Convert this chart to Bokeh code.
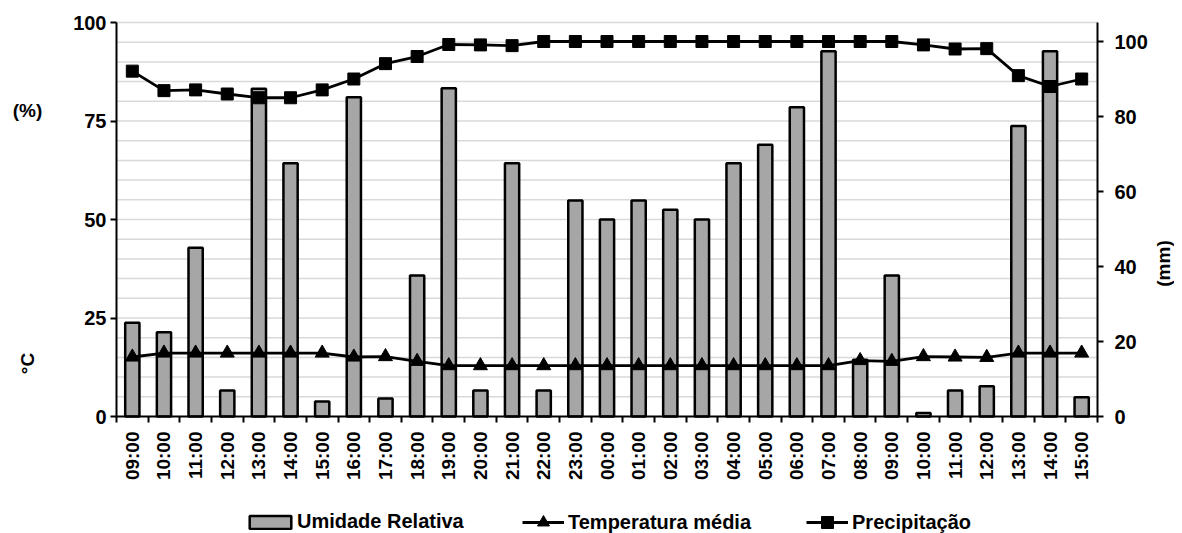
from bokeh.plotting import figure
from bokeh.models import (Range1d, LinearAxis, FixedTicker, Legend, LegendItem, Label)
from bokeh.embed import file_html
from bokeh.resources import INLINE
import math

hours = ["09:00", "10:00", "11:00", "12:00", "13:00", "14:00", "15:00", "16:00",
         "17:00", "18:00", "19:00", "20:00", "21:00", "22:00", "23:00", "00:00",
         "01:00", "02:00", "03:00", "04:00", "05:00", "06:00", "07:00", "08:00",
         "09:00", "10:00", "11:00", "12:00", "13:00", "14:00", "15:00"]

umidade = [23.8, 21.4, 42.8, 6.6, 83.2, 64.3, 3.8, 81.0, 4.6, 35.8, 83.3, 6.6,
           64.3, 6.6, 54.8, 50.0, 54.8, 52.5, 50.0, 64.3, 69.0, 78.5, 92.7, 14.4,
           35.8, 0.9, 6.6, 7.7, 73.7, 92.7, 4.9]

temperatura = [15.1, 16.1, 16.1, 16.1, 16.1, 16.1, 16.1, 15.1, 15.2, 14.0, 12.9, 12.9,
               12.9, 12.9, 12.9, 12.9, 12.9, 12.9, 12.9, 12.9, 12.9, 12.9, 12.9, 14.2,
               14.0, 15.2, 15.1, 15.0, 16.1, 16.1, 16.1]

precipitacao = [92.1, 86.9, 87.1, 86.0, 85.0, 85.0, 87.1, 90.0, 94.1, 96.0, 99.2, 99.1,
                98.9, 100.0, 100.0, 100.0, 100.0, 100.0, 100.0, 100.0, 100.0, 100.0, 100.0, 100.0,
                100.0, 99.1, 98.0, 98.1, 90.9, 88.0, 90.0]

left_ticks = [0, 25, 50, 75, 100]
right_ticks = [0, 20, 40, 60, 80, 100]
grid_values = list(range(5, 101, 5))
LEFT_MAX = 100
RIGHT_MAX = 105.07

FONT = "Liberation Sans"
n = len(hours)
xs = [i + 0.5 for i in range(n)]

# canvas / plot-area geometry (pixels)
W, H = 1174, 533
PL, PR, PT, PB = 116, 1097, 22, 416
ppx = (PR - PL) / n
ppy = (PB - PT) / LEFT_MAX
ppr = (PB - PT) / RIGHT_MAX

p = figure(width=W, height=H, output_backend="svg", toolbar_location=None,
           x_range=Range1d(-PL / ppx, n + (W - PR) / ppx),
           y_range=Range1d(-(H - PB) / ppy, LEFT_MAX + PT / ppy))
p.min_border_left = 0
p.min_border_right = 0
p.min_border_top = 0
p.min_border_bottom = 0
p.title.visible = False
p.outline_line_color = None
p.background_fill_color = "white"
p.border_fill_color = "white"
p.xgrid.visible = False
p.ygrid.visible = False

p.extra_y_ranges = {"mm": Range1d(-(H - PB) / ppr, RIGHT_MAX + PT / ppr)}

def style_axis(ax, size, standoff):
    ax.axis_line_width = 2
    ax.axis_line_color = "black"
    ax.major_tick_line_width = 2
    ax.major_tick_line_color = "black"
    ax.minor_tick_line_width = 2
    ax.minor_tick_line_color = "black"
    ax.major_label_standoff = standoff
    ax.major_label_text_font = FONT
    ax.major_label_text_font_style = "bold"
    ax.major_label_text_font_size = size
    ax.major_label_text_color = "black"

# x axis
xa = p.xaxis[0]
xa.ticker = FixedTicker(ticks=xs, minor_ticks=list(range(0, n + 1)))
xa.major_label_overrides = {x: h for x, h in zip(xs, hours)}
xa.major_label_orientation = math.pi / 2
xa.major_tick_out = 0
xa.major_tick_in = 0
xa.minor_tick_out = 6
xa.minor_tick_in = 0
xa.fixed_location = 0
xa.bounds = (0, n)
style_axis(xa, "19px", 9)

# left axis
ya = p.yaxis[0]
ya.ticker = FixedTicker(ticks=left_ticks)
ya.minor_tick_out = 0
ya.minor_tick_in = 0
ya.major_tick_out = 6
ya.major_tick_in = 0
ya.fixed_location = 0
ya.bounds = (0, LEFT_MAX)
style_axis(ya, "20px", 4)

# right axis
ra = LinearAxis(y_range_name="mm", ticker=FixedTicker(ticks=right_ticks))
ra.minor_tick_out = 0
ra.minor_tick_in = 0
ra.major_tick_out = 6
ra.major_tick_in = 0
ra.fixed_location = n
ra.bounds = (0, RIGHT_MAX)
style_axis(ra, "20px", 11)
p.add_layout(ra, "right")

# horizontal grid lines across the plot area
p.segment(x0=[0] * len(grid_values), x1=[n] * len(grid_values),
          y0=grid_values, y1=grid_values, line_color="#d9d9d9", line_width=1.5)

# glyphs
bars = p.vbar(x=xs, top=umidade, width=0.45, bottom=0,
              fill_color="#a6a6a6", line_color="black", line_width=2.5)
tl = p.line(xs, temperatura, line_color="black", line_width=2.8)
ts = p.scatter(xs, temperatura, marker="triangle", size=14,
               fill_color="black", line_color="black")
pl = p.line(xs, precipitacao, line_color="black", line_width=2.8, y_range_name="mm")
ps = p.scatter(xs, precipitacao, marker="square", size=12,
               fill_color="black", line_color="black", y_range_name="mm")

def style_legend(lg, gw, gh, standoff):
    lg.border_line_color = None
    lg.background_fill_alpha = 0
    lg.padding = 0
    lg.margin = 0
    lg.spacing = 55
    lg.label_standoff = standoff
    lg.glyph_width = gw
    lg.glyph_height = gh
    lg.label_height = 20
    lg.label_text_font = FONT
    lg.label_text_font_style = "bold"
    lg.label_text_font_size = "20px"
    lg.label_text_color = "black"

legend_a = Legend(items=[LegendItem(label="Umidade Relativa", renderers=[bars])],
                  orientation="horizontal", location=(244, 0))
style_legend(legend_a, 52, 16, 1)
p.add_layout(legend_a, "center")

legend_b = Legend(items=[
    LegendItem(label="Temperatura média", renderers=[tl, ts]),
    LegendItem(label="Precipitação", renderers=[pl, ps]),
], orientation="horizontal", location=(522, -4))
style_legend(legend_b, 42, 30, 4)
p.add_layout(legend_b, "center")

# axis titles
for txt, x, y, ang in [("(%)", (27 - PL) / ppx, (PB - 110) / ppy, 0),
                       ("°C", (27 - PL) / ppx, (PB - 363) / ppy, math.pi / 2),
                       ("(mm)", (1163 - PL) / ppx, (PB - 263) / ppy, math.pi / 2)]:
    p.add_layout(Label(x=x, y=y, text=txt, angle=ang, text_align="center",
                       text_baseline="middle", text_font=FONT, text_font_style="bold",
                       text_font_size="19px", text_color="black"))

open("out.html", "w").write(file_html(p, INLINE))
